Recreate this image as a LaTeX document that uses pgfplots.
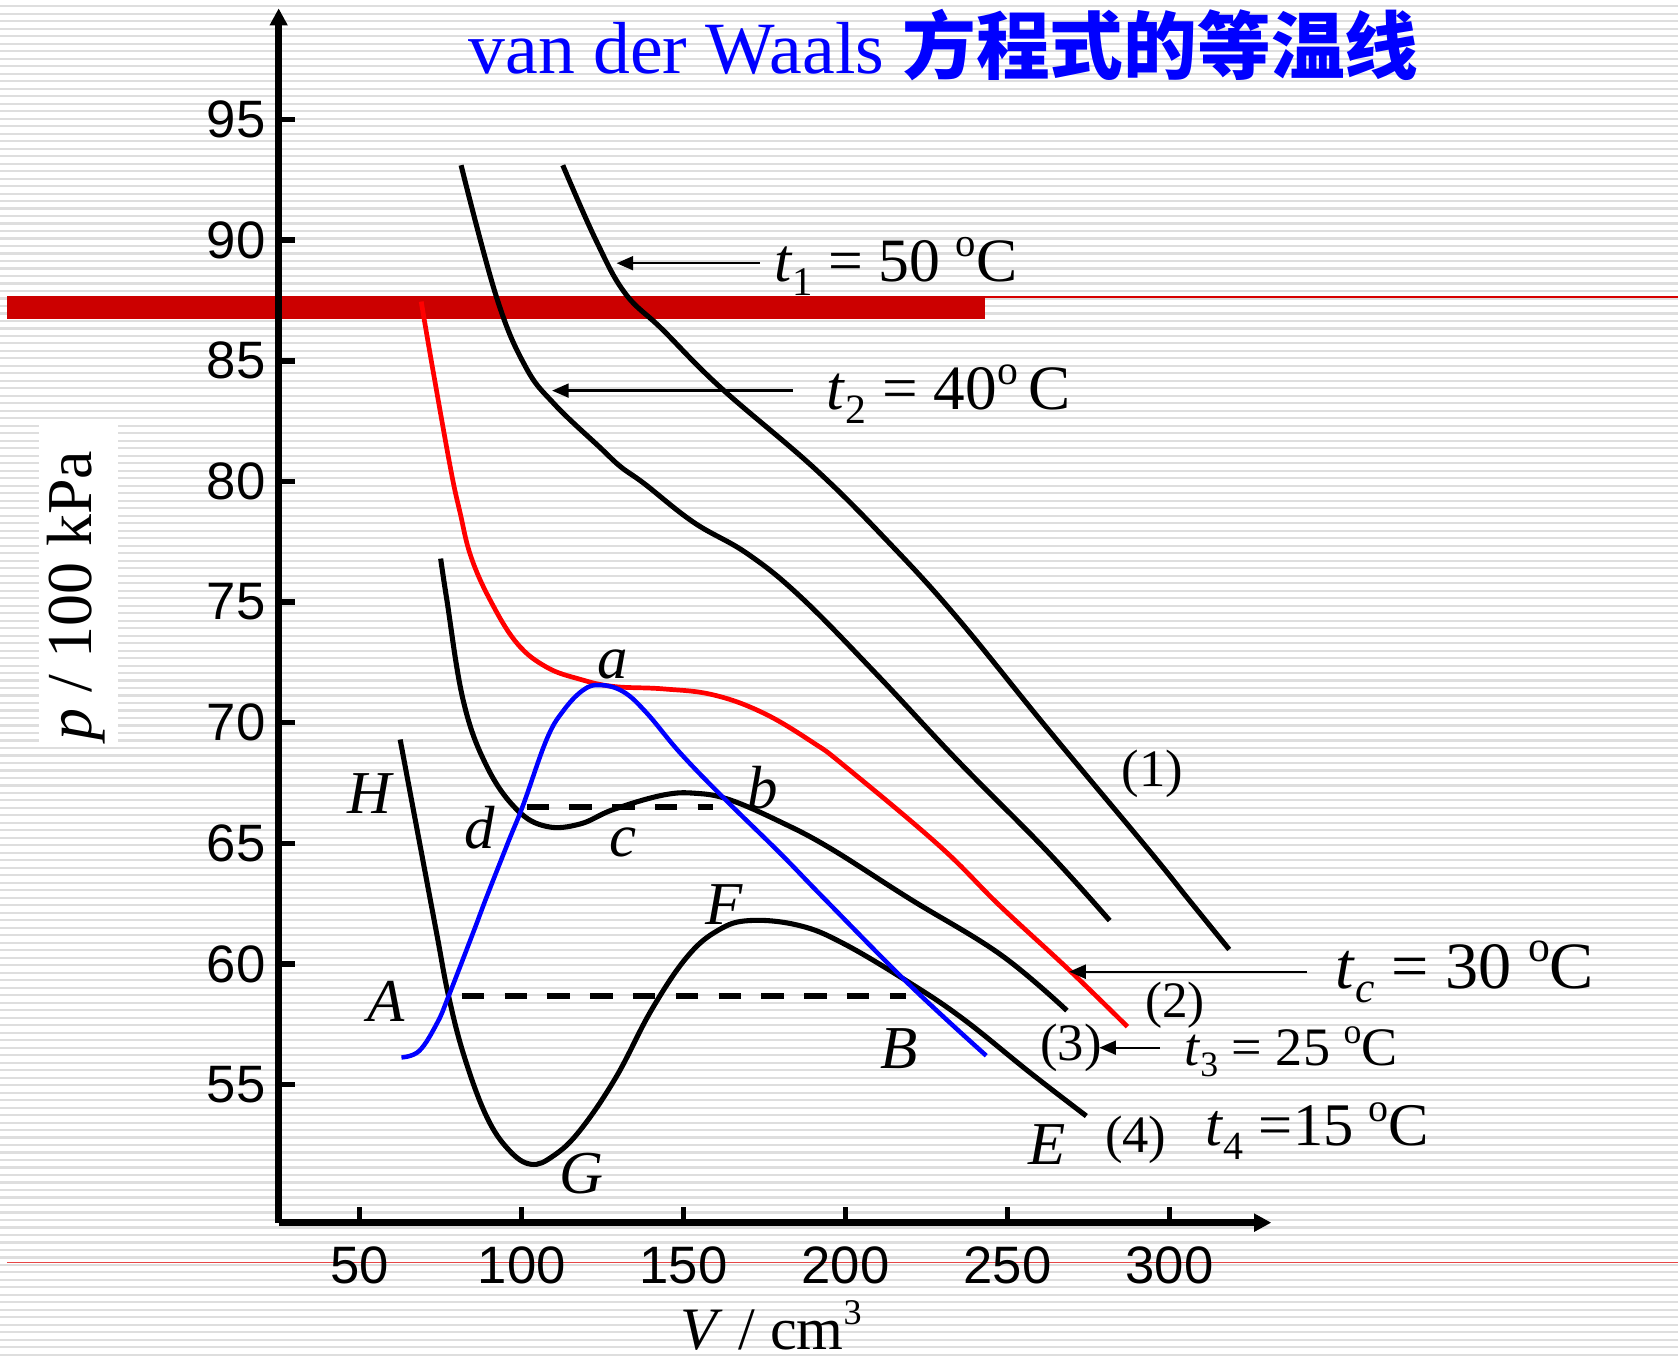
\documentclass[border=0pt]{standalone}
\usepackage{pgfplots}
\pgfplotsset{compat=1.18}
\usetikzlibrary{arrows.meta}
\usepackage{fontspec}
\setmainfont{Liberation Serif}
\newfontfamily\arialfont{Liberation Sans}
\newfontfamily\cjkfont{Noto Sans CJK SC}

\definecolor{stripe}{RGB}{222,222,222}
\definecolor{bandred}{RGB}{204,0,0}
\definecolor{rulered}{RGB}{215,0,0}
\definecolor{lowrule}{RGB}{230,70,70}
\definecolor{pureblue}{RGB}{0,0,255}
\definecolor{purered}{RGB}{255,0,0}

\newcommand\fs[1]{\fontsize{#1}{#1}\selectfont}
\newcommand\sub[1]{\raisebox{-0.22em}{\scalebox{0.66}{#1}}}
\newcommand\dg{\raisebox{0.40em}{\scalebox{0.66}{o}}}

\begin{document}
\begin{tikzpicture}[x=1cm,y=1cm]
% slide background with fine horizontal stripes
\fill[white] (0,0) rectangle (15.68,12.69);
\foreach \k in {0,...,181} \fill[stripe] (0,0.02+\k*0.07) rectangle (15.68,0.04+\k*0.07);
% decorative rules
\fill[bandred] (0.065,9.71) rectangle (9.20,9.924);
\draw[line width=0.014cm, rulered] (9.2,9.917) -- (15.68,9.917);
\draw[line width=0.012cm, lowrule] (0.065,0.89) -- (15.68,0.89);
% white box behind the pressure label
\fill[white] (0.367,5.76) rectangle (1.106,8.734);

\begin{axis}[
  at={(2.604cm,1.265cm)}, anchor=south west,
  x=0.03027cm, y=0.2255cm,
  xmin=25, xmax=331.4, ymin=49.28, ymax=99.6,
  axis lines=left,
  axis line style={line width=1.7pt, -{Triangle[length=0.16cm,width=0.16cm]}},
  tick align=inside,
  major tick length=0.15cm,
  tick style={line width=1.5pt, black},
  xtick={50,100,...,300},
  ytick={55,60,...,95},
  tick label style={font=\arialfont\fs{14}},
  xticklabel style={yshift=-0.1cm},
  /pgf/number format/assume math mode=true,
  clip=false,
  iso/.style={black, line width=1.35pt, smooth, tension=0.65},
]
% (1) t1 = 50 C
\addplot[iso] coordinates {
 (112.7,93.1) (122.9,90.0) (131.9,87.8) (143.4,86.3) (161.3,83.9)
 (190.7,80.5) (213.8,77.4) (234.4,74.35) (262,69.8) (293.7,64.7)
 (305.7,62.7) (318.4,60.6)};
% t2 = 40 C
\addplot[iso] coordinates {
 (81.3,93.1) (92.2,87.65) (101.2,84.75) (110.1,83.2) (124.2,81.4)
 (130.6,80.6) (137.9,79.9) (153.1,78.3) (169.7,77.0) (186.2,75.2)
 (209.6,72.0) (234.4,68.45) (262,64.7) (281.5,61.8)};
% (2) critical isotherm tc = 30 C
\addplot[purered, line width=1.25pt, smooth, tension=0.65] coordinates {
 (69.0,87.45) (72.5,84.7) (78.1,80.5) (81.0,78.7) (84.3,76.9) (90.2,75.1)
 (98.5,73.3) (107.7,72.3) (118.0,71.8) (128.3,71.5) (143.7,71.4)
 (159.2,71.15) (174.6,70.4) (190.0,69.17) (199.9,68.18) (228.9,64.9)
 (247.7,62.4) (269.0,59.75) (287.0,57.4)};
% (3) t3 = 25 C
\addplot[iso] coordinates {
 (75.0,76.8) (76.9,75.1) (82.0,70.9) (89.2,68.2) (98.5,66.4)
 (107.7,65.7) (118.0,65.8) (128.3,66.4) (143.7,67.0) (154.0,67.07)
 (164.3,66.8) (179.7,65.9) (195.2,64.8) (219.8,62.7) (247.7,60.4)
 (268.3,58.07)};
% (4) t4 = 15 C
\addplot[iso] coordinates {
 (62.5,69.3) (66.0,66.8) (70.0,63.95) (74.0,61.1) (77.4,58.7)
 (82.2,56.2) (89.1,53.7) (96.0,52.3) (102.9,51.7) (109.8,52.05)
 (118.0,53.1) (129.1,55.3) (140.1,58.1) (151.1,60.3) (160.7,61.4)
 (170.4,61.8) (185.5,61.6) (199.3,60.85) (220.0,59.2) (236.5,57.7)
 (256.9,55.5) (274.3,53.7)};
% coexistence boundary
\addplot[pureblue, line width=1.2pt, smooth, tension=0.65] coordinates {
 (62.9,56.13) (68.4,56.4) (73.9,57.55) (77.4,58.65) (84.95,61.27)
 (89.2,62.78) (96.0,65.1) (100.5,66.6) (107.7,69.3) (112.9,70.5)
 (119.0,71.35) (124.2,71.56) (131.4,71.28) (138.6,70.4) (148.9,68.75)
 (162.2,66.9) (179.7,64.6) (193.1,62.75) (220.0,59.1) (243.4,56.2)};
% Maxwell tie lines
\addplot[black, line width=1.6pt, dash pattern=on 0.21cm off 0.19cm] coordinates {(101.5,66.49) (159.2,66.49)};
\addplot[black, line width=1.6pt, dash pattern=on 0.21cm off 0.19cm] coordinates {(81.5,58.67) (218.6,58.67)};
% pointer arrows
\draw[line width=0.6pt, -{Triangle[length=0.155cm,width=0.13cm]}] (axis cs:173.5,89.04) -- (axis cs:129.3,89.04);
\draw[line width=0.6pt, -{Triangle[length=0.155cm,width=0.13cm]}] (axis cs:183.7,83.76) -- (axis cs:109.4,83.76);
\draw[line width=0.6pt, -{Triangle[length=0.155cm,width=0.13cm]}] (axis cs:342.4,59.68) -- (axis cs:269.0,59.68);
\draw[line width=0.6pt, -{Triangle[length=0.155cm,width=0.13cm]}] (axis cs:297.0,56.53) -- (axis cs:278.3,56.53);
\end{axis}

% title
\node[anchor=base west, inner sep=0, text=pureblue] at (4.37,12.0)
  {\fs{19.6}van der Waals {\cjkfont\bfseries 方程式的等温线}};
% axis labels
\node[anchor=base, inner sep=0] at (7.207,0.08) {\fs{16}\textit{V} / cm\raisebox{0.42em}{\scalebox{0.6}{3}}};
\node[anchor=base, inner sep=0, rotate=90] at (0.857,7.123) {\fs{17}\textit{p} / 100 kPa};

% isotherm labels
\node[anchor=base west, inner sep=0] at (7.23,10.058) {\fs{16.4}\textit{t}\sub{1} = 50 \dg C};
\node[anchor=base west, inner sep=0] at (7.72,8.865) {\fs{16.8}\textit{t}\sub{2} = 40\dg\,C};
\node[anchor=base west, inner sep=0] at (12.475,3.455) {\fs{17.6}\textit{t}\sub{\textit{c}} = 30 \dg C};
\node[anchor=base west, inner sep=0] at (11.06,2.738) {\fs{14.4}\textit{t}\sub{3} = 25 \dg C};
\node[anchor=base west, inner sep=0] at (11.26,1.982) {\fs{16.1}\textit{t}\sub{4} =15 \dg C};
\node[inner sep=0] at (10.767,5.456) {\fs{14}(1)};
\node[inner sep=0] at (10.98,3.30) {\fs{13.6}(2)};
\node[inner sep=0] at (10.008,2.90) {\fs{14}(3)};
\node[inner sep=0] at (10.613,2.04) {\fs{14}(4)};

% point labels
\begin{scope}[every node/.style={anchor=base, inner sep=0, font=\fs{16.2}\itshape}]
\node at (5.723,6.354) {a};
\node at (7.125,5.137) {b};
\node at (5.825,4.685) {c};
\node at (4.485,4.764) {d};
\node at (3.457,5.09) {H};
\node at (3.605,3.143) {A};
\node at (8.402,2.708) {B};
\node at (9.78,1.804) {E};
\node at (6.765,4.047) {F};
\node at (5.438,1.54) {G};
\end{scope}

\pgfresetboundingbox
\useasboundingbox (0,0) rectangle (15.68,12.69);
\end{tikzpicture}
\end{document}
